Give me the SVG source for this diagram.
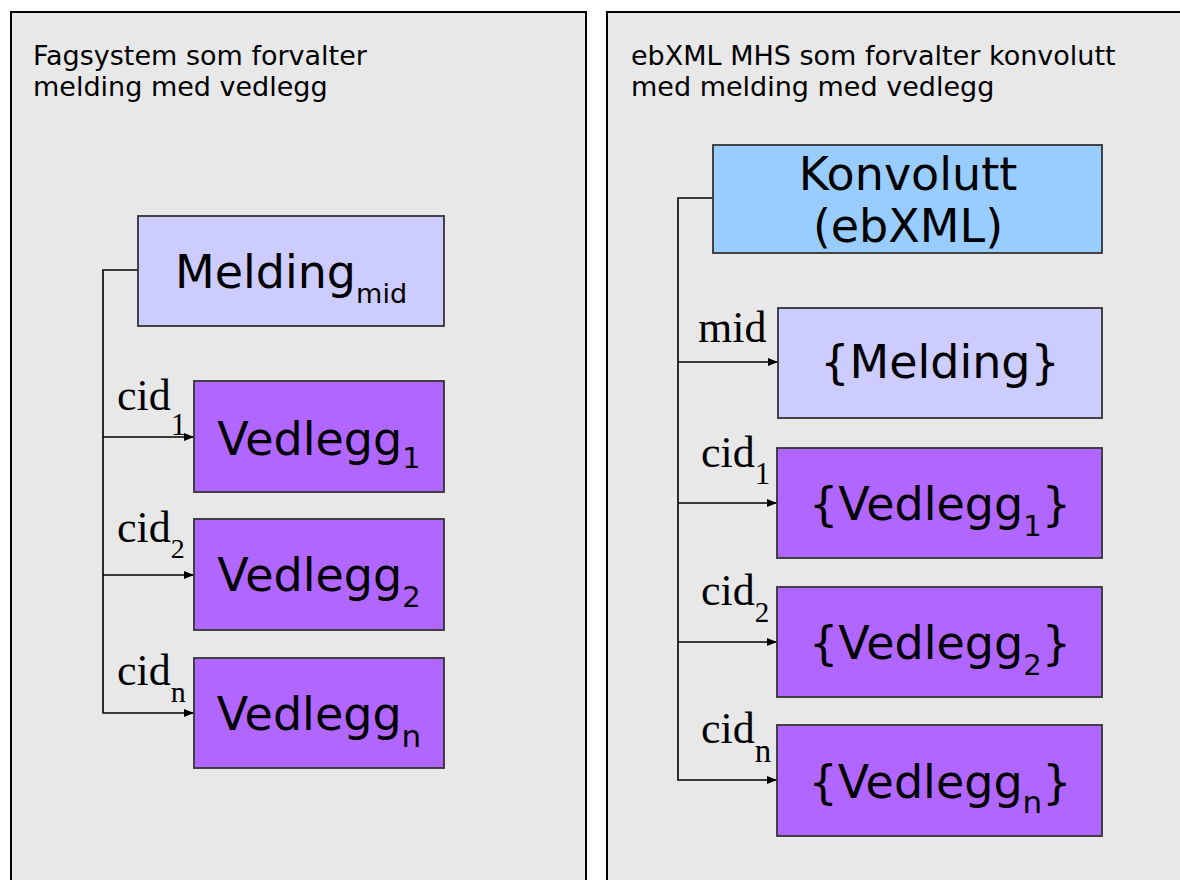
<svg xmlns="http://www.w3.org/2000/svg" width="1180" height="880" viewBox="0 0 1180 880">
  <style>
    .panel { fill: #e8e8e8; stroke: #000; stroke-width: 2; }
    .title { font-family: "DejaVu Sans", Verdana, sans-serif; font-size: 27px; fill: #000; }
    .box { stroke: #333; stroke-width: 1.8; }
    .msg { fill: #ccccff; }
    .att { fill: #b066ff; }
    .env { fill: #99ccff; }
    .label { font-family: "DejaVu Sans", Verdana, sans-serif; font-size: 46px; fill: #000; text-anchor: middle; }
    .ref { font-family: "Liberation Serif", "Times New Roman", serif; font-size: 44px; fill: #000; }
    .conn { fill: none; stroke: #000; stroke-width: 1.6; }
  </style>
  <defs>
    <marker id="arrow" markerUnits="userSpaceOnUse" markerWidth="10" markerHeight="8" refX="10" refY="4" orient="auto">
      <path d="M0,0 L10,4 L0,8 z" fill="#000"/>
    </marker>
  </defs>

  <rect width="1180" height="880" fill="#fff"/>

  <!-- left panel: application system -->
  <g id="panel-left">
    <rect class="panel" x="11" y="12" width="575" height="880"/>
    <text class="title" x="33" y="65">Fagsystem som forvalter</text>
    <text class="title" x="33" y="96">melding med vedlegg</text>
  </g>

  <!-- right panel: ebXML MHS -->
  <g id="panel-right">
    <rect class="panel" x="607" y="12" width="590" height="880"/>
    <text class="title" x="631" y="65">ebXML MHS som forvalter konvolutt</text>
    <text class="title" x="631" y="96">med melding med vedlegg</text>
  </g>

  <!-- connectors -->
  <g id="connectors">
    <path class="conn" d="M138,270 H103 V713 H194" marker-end="url(#arrow)"/>
    <path class="conn" d="M103,437 H194" marker-end="url(#arrow)"/>
    <path class="conn" d="M103,575 H194" marker-end="url(#arrow)"/>

    <path class="conn" d="M713,198 H678 V780 H777" marker-end="url(#arrow)"/>
    <path class="conn" d="M678,362 H778" marker-end="url(#arrow)"/>
    <path class="conn" d="M678,503 H777" marker-end="url(#arrow)"/>
    <path class="conn" d="M678,642 H777" marker-end="url(#arrow)"/>
  </g>

  <!-- connector labels -->
  <g id="ref-labels">
    <text class="ref" x="117" y="410">cid<tspan font-size="31" dy="25">1</tspan></text>
    <text class="ref" x="117" y="542">cid<tspan font-size="28" dy="16">2</tspan></text>
    <text class="ref" x="117" y="685">cid<tspan font-size="30" dy="17">n</tspan></text>

    <text class="ref" x="698" y="342">mid</text>
    <text class="ref" x="701" y="467">cid<tspan font-size="31" dy="17">1</tspan></text>
    <text class="ref" x="701" y="605">cid<tspan font-size="29" dy="17">2</tspan></text>
    <text class="ref" x="701" y="743">cid<tspan font-size="33" dy="19">n</tspan></text>
  </g>

  <!-- left nodes -->
  <g id="melding-left">
    <rect class="box msg" x="138" y="216" width="306" height="110"/>
    <text class="label" x="291" y="288">Melding<tspan font-size="27" dy="15">mid</tspan></text>
  </g>
  <g id="vedlegg1-left">
    <rect class="box att" x="194" y="381" width="250" height="111"/>
    <text class="label" x="319" y="455">Vedlegg<tspan font-size="29" dy="13">1</tspan></text>
  </g>
  <g id="vedlegg2-left">
    <rect class="box att" x="194" y="519" width="250" height="111"/>
    <text class="label" x="319" y="591">Vedlegg<tspan font-size="29" dy="16">2</tspan></text>
  </g>
  <g id="vedleggn-left">
    <rect class="box att" x="194" y="658" width="250" height="110"/>
    <text class="label" x="319" y="730">Vedlegg<tspan font-size="31" dy="17">n</tspan></text>
  </g>

  <!-- right nodes -->
  <g id="konvolutt">
    <rect class="box env" x="713" y="145" width="389" height="108"/>
    <text class="label" x="908" y="190">Konvolutt</text>
    <text class="label" x="908" y="242">(ebXML)</text>
  </g>
  <g id="melding-right">
    <rect class="box msg" x="778" y="308" width="324" height="110"/>
    <text class="label" x="940" y="378">{Melding}</text>
  </g>
  <g id="vedlegg1-right">
    <rect class="box att" x="777" y="448" width="325" height="110"/>
    <text class="label" x="940" y="520">{Vedlegg<tspan font-size="29" dy="16">1</tspan><tspan dy="-16">}</tspan></text>
  </g>
  <g id="vedlegg2-right">
    <rect class="box att" x="777" y="587" width="325" height="110"/>
    <text class="label" x="940" y="659">{Vedlegg<tspan font-size="29" dy="16">2</tspan><tspan dy="-16">}</tspan></text>
  </g>
  <g id="vedleggn-right">
    <rect class="box att" x="777" y="725" width="325" height="111"/>
    <text class="label" x="940" y="798">{Vedlegg<tspan font-size="31" dy="15">n</tspan><tspan dy="-15">}</tspan></text>
  </g>
</svg>
